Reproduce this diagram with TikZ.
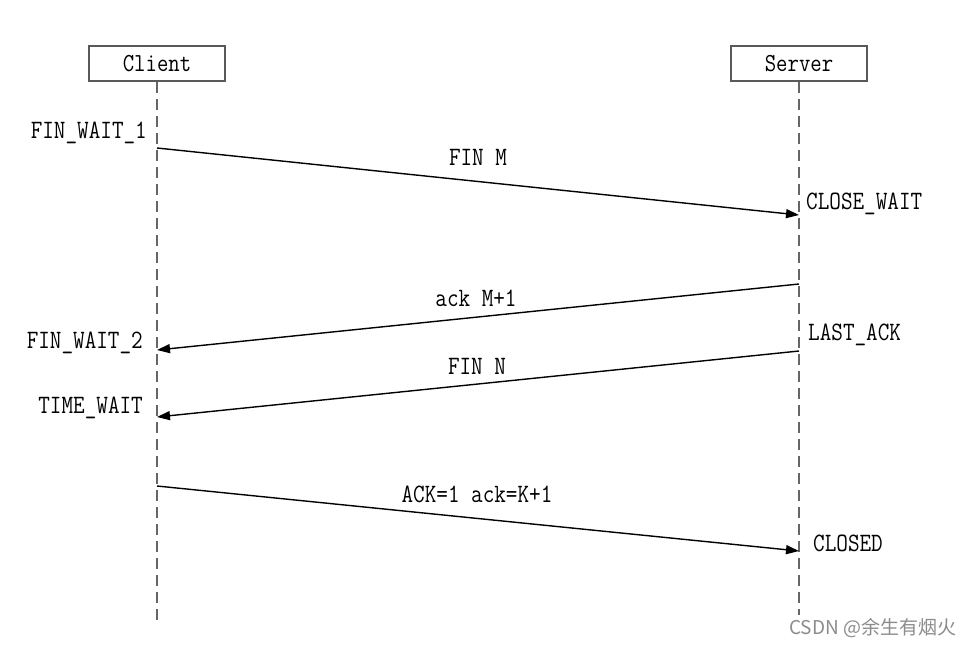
\documentclass[tikz,border=0pt]{standalone}
\usepackage{fontspec}
\usetikzlibrary{arrows.meta}
\newfontfamily\labfont[FakeStretch=0.85]{Latin Modern Mono}
\newfontfamily\cjkfont{Noto Sans CJK SC}
\begin{document}
\begin{tikzpicture}[x=1pt,y=-1pt,
  actor/.style={draw=black!65,line width=2pt,minimum width=136pt,minimum height=35pt,inner sep=0pt,font=\labfont\fontsize{26}{28}\selectfont},
  life/.style={draw=black!60,line width=1.8pt,dash pattern=on 11pt off 6pt},
  msg/.style={draw=black,line width=1.4pt,-{Triangle[length=13pt,width=9pt]}},
  lbl/.style={inner sep=0pt,font=\labfont\fontsize{26.5}{28}\selectfont,text=black}]
\useasboundingbox (0,0) rectangle (975,646);
\fill[white] (0,0) rectangle (975,646);
\node[actor] (client) at (157,63.5) {Client};
\node[actor] (server) at (799,63.5) {Server};
\coordinate (cend) at (157,622);
\coordinate (send) at (799,615);
\draw[life] (client.south) -- (cend);
\draw[life] (server.south) -- (send);
% message points
\coordinate (c1) at (157,148);
\coordinate (s1) at (799,215);
\coordinate (s2) at (799,284);
\coordinate (c2) at (157,350);
\coordinate (s3) at (799,351);
\coordinate (c3) at (157,417);
\coordinate (c4) at (157,486);
\coordinate (s4) at (799,551);
\draw[msg] (c1) -- (s1);
\draw[msg] (s2) -- (c2);
\draw[msg] (s3) -- (c3);
\draw[msg] (c4) -- (s4);
% message labels
\node[lbl] (m1) at (478,157) {FIN M};
\node[lbl] (m2) at (476,298) {ack M+1};
\node[lbl] (m3) at (477,366) {FIN N};
\node[lbl] (m4) at (477,494) {ACK=1 ack=K+1};
% state labels
\node[lbl,anchor=east] (fw1) at (147,133) {FIN\_WAIT\_1};
\node[lbl,anchor=west] (cw) at (806,204) {CLOSE\_WAIT};
\node[lbl,anchor=east] (fw2) at (143,343) {FIN\_WAIT\_2};
\node[lbl,anchor=west] (la) at (808,335) {LAST\_ACK};
\node[lbl,anchor=east] (tw) at (143,408) {TIME\_WAIT};
\node[lbl,anchor=west] (cl) at (813,543) {CLOSED};
% watermark
\node[inner sep=0pt,anchor=west,text=black!45,font=\cjkfont\fontsize{19}{21}\selectfont] (wm) at (789,628) {CSDN @余生有烟火};
\end{tikzpicture}
\end{document}
